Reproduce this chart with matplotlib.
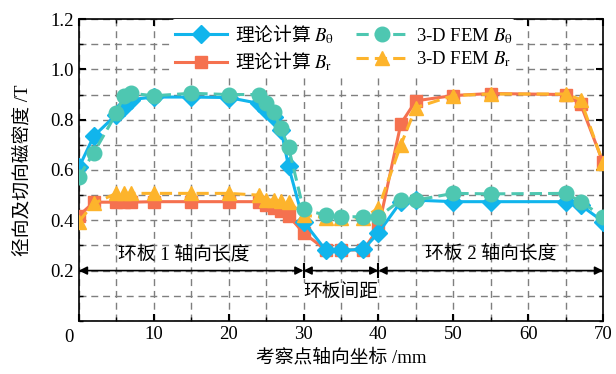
import matplotlib
matplotlib.use("Agg")
import matplotlib.pyplot as plt
from matplotlib.ticker import MultipleLocator

plt.rcParams['font.family'] = ['Liberation Serif', 'Noto Sans CJK SC', 'DejaVu Sans']
plt.rcParams['mathtext.fontset'] = 'stix'

# ---------------- data ----------------
x_theory = [0, 2, 5, 6, 7, 10, 15, 20, 24, 25, 26, 27, 28, 30, 33, 35, 38, 40, 43, 45, 50, 55, 65, 67, 70]
theory_Btheta = [0.61, 0.735, 0.82, 0.85, 0.88, 0.89, 0.89, 0.888, 0.865, 0.84, 0.81, 0.76, 0.615,
                 0.395, 0.28, 0.28, 0.285, 0.35, 0.474, 0.48, 0.474, 0.474, 0.474, 0.46, 0.395]
theory_Br = [0.418, 0.472, 0.472, 0.472, 0.472, 0.474, 0.474, 0.474, 0.474, 0.46, 0.448, 0.436, 0.418,
             0.35, 0.282, 0.282, 0.282, 0.368, 0.784, 0.875, 0.896, 0.904, 0.9, 0.862, 0.63]

x_fem = [0, 2, 5, 6, 7, 10, 15, 20, 24, 25, 26, 27, 28, 30, 33, 35, 38, 40, 43, 45, 50, 55, 65, 67, 70]
fem_Btheta = [0.573, 0.669, 0.825, 0.895, 0.905, 0.895, 0.905, 0.9, 0.9, 0.867, 0.83, 0.765, 0.69,
              0.443, 0.42, 0.414, 0.414, 0.414, 0.48, 0.48, 0.507, 0.505, 0.507, 0.474, 0.414]
fem_Br = [0.395, 0.467, 0.507, 0.507, 0.507, 0.507, 0.507, 0.507, 0.5, 0.48, 0.48, 0.476, 0.474,
          0.421, 0.41, 0.41, 0.41, 0.448, 0.70, 0.848, 0.896, 0.902, 0.902, 0.88, 0.627]

legend_labels = ['理论计算 $B_{\\mathrm{\\theta}}$', '理论计算 $B_{\\mathrm{r}}$',
                 '3-D FEM $B_{\\mathrm{\\theta}}$', '3-D FEM $B_{\\mathrm{r}}$']
region_labels = ['环板 1 轴向长度', '环板间距', '环板 2 轴向长度']
region_bounds = [0, 30, 40, 70]
xticks = [0, 10, 20, 30, 40, 50, 60, 70]
yticks = [0.2, 0.4, 0.6, 0.8, 1.0, 1.2]

c_blue = '#11B5EC'
c_teal = '#4EC7B1'
c_coral = '#F5714F'
c_yellow = '#FDB42C'

fig = plt.figure(figsize=(6.16, 3.74), dpi=100)
ax = fig.add_axes([0.128, 0.142, 0.851, 0.807])

ax.plot(x_theory, theory_Btheta, color=c_blue, lw=2.2, marker='D', ms=9, mec=c_blue, zorder=5,
        label=legend_labels[0])
ax.plot(x_theory, theory_Br, color=c_coral, lw=2.2, marker='s', ms=9, mec=c_coral, zorder=4,
        label=legend_labels[1])
ax.plot(x_fem, fem_Btheta, color=c_teal, lw=2.2, ls=(0, (4, 2)), marker='o', ms=10.5, mec=c_teal, zorder=6,
        label=legend_labels[2])
ax.plot(x_fem, fem_Br, color=c_yellow, lw=2.2, ls=(0, (4, 2)), marker='^', ms=10.5, mec=c_yellow, zorder=5,
        label=legend_labels[3])

ax.set_xlim(0, 70)
ax.set_ylim(0, 1.2)
ax.set_xticks(xticks)
ax.set_xticklabels(['' if t == 0 else str(t) for t in xticks])
ax.set_yticks(yticks)
ax.set_yticklabels([f'{t:.1f}' for t in yticks])
ax.xaxis.set_minor_locator(MultipleLocator(5))
ax.yaxis.set_minor_locator(MultipleLocator(0.1))
ax.tick_params(which='both', direction='in', top=True, right=True, labelsize=13.5)
ax.tick_params(which='major', length=5, width=1.5)
ax.tick_params(which='minor', length=3, width=1)
ax.grid(True, which='both', color='#7f7f7f', ls=(0, (5, 3.5)), lw=1)
ax.set_axisbelow(True)
for s in ax.spines.values():
    s.set_linewidth(1.2)

ax.annotate('0', xy=(0, 0), xycoords='data', xytext=(-7, -12), textcoords='offset points',
            ha='center', va='center', fontsize=13.5)

ax.set_xlabel('考察点轴向坐标 /mm', fontsize=13.5, labelpad=4)
ax.set_ylabel('径向及切向磁密度 /T', fontsize=13.5, labelpad=14)

# region arrows
y_arrow = 0.2
for i in range(3):
    ax.annotate('', xy=(region_bounds[i], y_arrow), xytext=(region_bounds[i + 1], y_arrow),
                arrowprops=dict(arrowstyle='<|-|>', color='black', lw=1.2, mutation_scale=12,
                                shrinkA=0, shrinkB=0), zorder=7)
for b in region_bounds[1:3]:
    ax.plot([b, b], [y_arrow - 0.025, y_arrow + 0.025], color='black', lw=1.5, zorder=7)
ax.text(14, 0.262, region_labels[0], ha='center', va='center', fontsize=13.5, zorder=8)
ax.text(35, 0.113, region_labels[1], ha='center', va='center', fontsize=13.5, zorder=8,
        bbox=dict(facecolor='white', edgecolor='none', pad=0.5))
ax.text(55, 0.268, region_labels[2], ha='center', va='center', fontsize=13.5, zorder=8)

leg = ax.legend(ncol=2, loc='upper center', bbox_to_anchor=(0.505, 1.005), fontsize=13.5,
                frameon=True, facecolor='white', edgecolor='none', framealpha=1,
                handlelength=2.8, columnspacing=1.2, handletextpad=0.4, borderpad=0.15,
                labelspacing=0.2, borderaxespad=0.1)
leg.set_zorder(10)
texts = leg.get_texts()
# legend order with ncol=2 is column-major: [theory Btheta, theory Br, FEM Btheta, FEM Br]
for t in texts[:2]:
    t.set_fontfamily('Noto Sans CJK SC')

fig.savefig('out.png', dpi=100)
